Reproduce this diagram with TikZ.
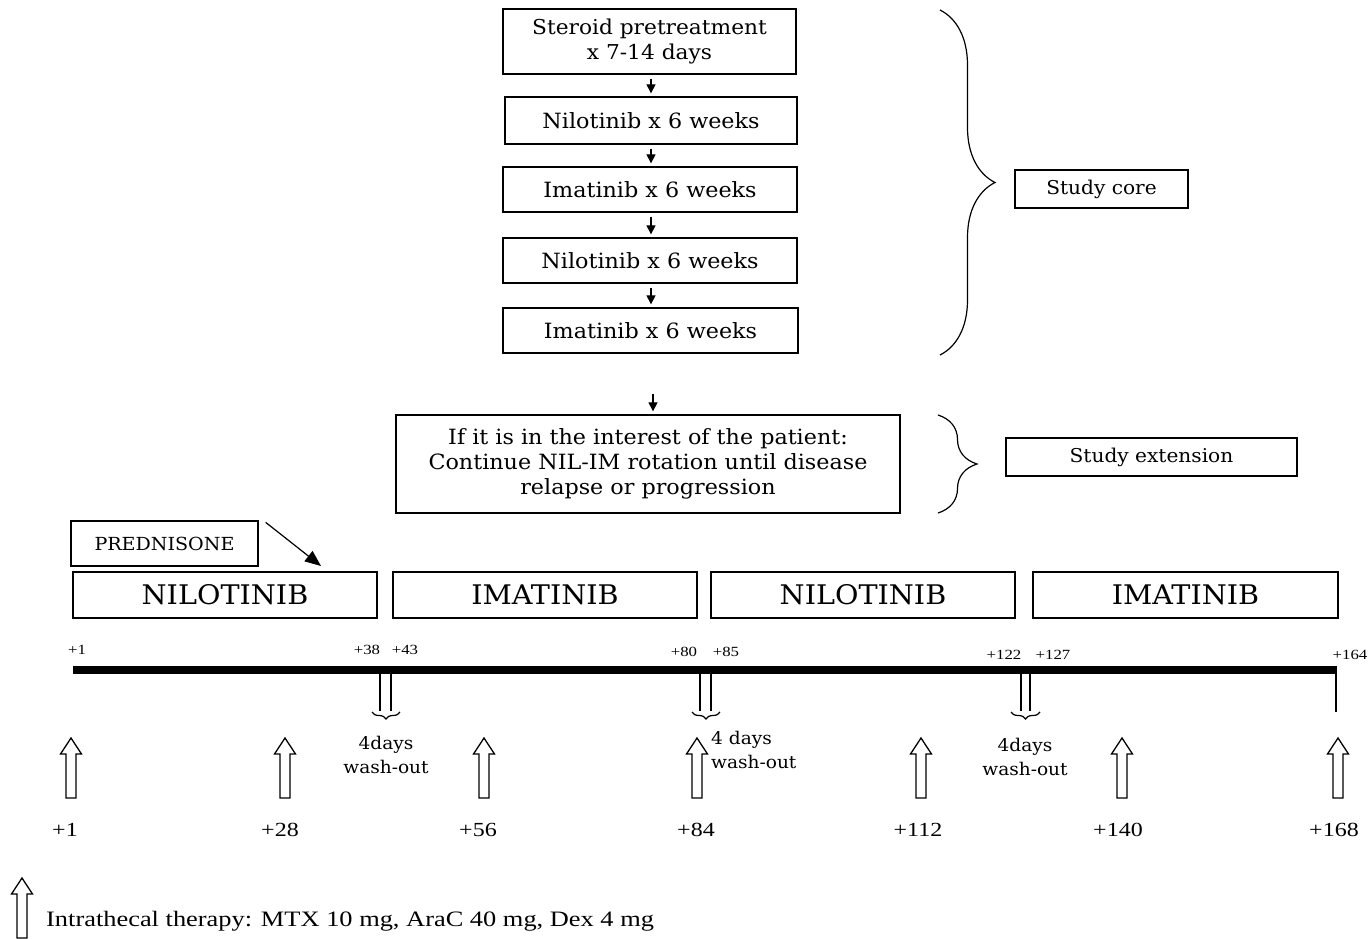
\documentclass[tikz,border=0pt]{standalone}
\usepackage{fontspec}
\setmainfont{DejaVu Serif}[FakeStretch=1.06]
\newfontfamily\legfont{Liberation Serif}[FakeStretch=1.2]
\usetikzlibrary{arrows.meta,decorations.pathreplacing}
\begin{document}
\begin{tikzpicture}[x=1pt,y=-1pt,
  flowbox/.style={draw, line width=1.3pt, inner sep=0pt, align=center, font=\fontsize{21}{24.5}\selectfont},
  sidebox/.style={draw, line width=1.3pt, inner sep=0pt, align=center, font=\fontsize{19}{22}\selectfont},
  drugbox/.style={draw, line width=1.3pt, inner sep=0pt, minimum height=46pt, minimum width=304pt, font=\fontsize{27}{30}\selectfont},
  flowarrow/.style={-{Triangle[length=9pt,width=9pt]}, line width=1.2pt, shorten <=4pt, shorten >=3pt},
  daylabel/.style={font=\legfont\fontsize{14}{16}\selectfont, inner sep=0pt},
  ticklabel/.style={font=\legfont\fontsize{20}{23}\selectfont, inner sep=0pt},
  washtext/.style={font=\fontsize{17.5}{24}\selectfont, inner sep=0pt, align=center},
  bigbrace/.style={decorate, decoration={brace, amplitude=#1}, line width=1.2pt},
  washbrace/.style={decorate, decoration={brace, amplitude=7pt}, line width=1.2pt},
  hollow/.pic={\draw[line width=1.3pt, fill=white] (-5,0) -- (-5,-44) -- (-10.5,-44) -- (0,-60) -- (10.5,-44) -- (5,-44) -- (5,0) -- cycle;}
]
\useasboundingbox (0,0) rectangle (1368,939);
% flow chart
\node[flowbox, minimum width=293pt, minimum height=65pt, font=\fontsize{20.5}{24.5}\selectfont] (b1) at (649.5,41.5) {Steroid pretreatment\\x 7-14 days};
\node[flowbox, minimum width=292pt, minimum height=47pt] (b2) at (651,120.5) {Nilotinib x 6 weeks};
\node[flowbox, minimum width=294pt, minimum height=45pt] (b3) at (650,189.5) {Imatinib x 6 weeks};
\node[flowbox, minimum width=294pt, minimum height=45pt] (b4) at (650,260.5) {Nilotinib x 6 weeks};
\node[flowbox, minimum width=295pt, minimum height=45pt] (b5) at (650.5,330.5) {Imatinib x 6 weeks};
\node[flowbox, minimum width=504pt, minimum height=98pt, font=\fontsize{21}{25}\selectfont] (b6) at (648,464) {If it is in the interest of the patient:\\Continue NIL-IM rotation until disease\\relapse or progression};
\draw[flowarrow] (b1.south -| 651,0) -- (b2.north -| 651,0);
\draw[flowarrow] (b2.south -| 651,0) -- (b3.north -| 651,0);
\draw[flowarrow] (b3.south -| 651,0) -- (b4.north -| 651,0);
\draw[flowarrow] (b4.south -| 651,0) -- (b5.north -| 651,0);
\coordinate (freestart) at (653,390);
\draw[flowarrow] (freestart) -- (b6.north -| 653,0);
% braces
\draw[bigbrace=55pt] (940,10) -- (940,355);
\draw[bigbrace=39pt] (938,415) -- (938,513);
\node[sidebox, minimum width=173pt, minimum height=38pt] (core) at (1101.5,189) {Study core};
\node[sidebox, minimum width=291pt, minimum height=38pt] (ext) at (1151.5,457) {Study extension};
% prednisone
\node[draw, line width=1.3pt, inner sep=0pt, minimum width=187pt, minimum height=45pt, font=\fontsize{18}{20}\selectfont] (pred) at (164.5,543.5) {PREDNISONE};
\coordinate (predtip) at (321,566);
\draw[line width=1.2pt, -{Triangle[length=16pt,width=13pt]}] ([shift={(7,2)}]pred.north east) -- (predtip);
% drug boxes
\node[drugbox] (nil1) at (225,595) {NILOTINIB};
\node[drugbox] (ima1) at (545,595) {IMATINIB};
\node[drugbox] (nil2) at (863,595) {NILOTINIB};
\node[drugbox, minimum width=305pt] (ima2) at (1185.5,595) {IMATINIB};
% timeline
\coordinate (tl0) at (73,670);
\coordinate (tl1) at (1337,670);
\coordinate (tlend) at (1336,712);
\draw[line width=8pt] (tl0) -- (tl1);
\draw[line width=1.8pt] (1336,666) -- (tlend);
\node[daylabel] (d1) at (77,650) {+1};
\node[daylabel] (d38) at (367,650) {+38};
\node[daylabel] (d43) at (405,650) {+43};
\node[daylabel] (d80) at (684,652) {+80};
\node[daylabel] (d85) at (726,652) {+85};
\node[daylabel] (d122) at (1004,655) {+122};
\node[daylabel] (d127) at (1053,655) {+127};
\node[daylabel] (d164) at (1350,655) {+164};
% wash-outs
\foreach \xa/\xb/\bl/\br in {380/391/372/400, 700/711/692/720, 1021/1030/1011/1040}{
  \draw[line width=1.5pt] (\xa,673) -- (\xa,711);
  \draw[line width=1.5pt] (\xb,673) -- (\xb,711);
  \draw[washbrace] (\br,712) -- (\bl,712);
}
\node[washtext] (wa) at (386,755) {4days\\wash-out};
\node[washtext, align=left, anchor=north west] (wb) at (711,731) {4 days\\wash-out};
\node[washtext] (wc) at (1025,757) {4days\\wash-out};
% intrathecal arrows
\foreach \x in {71, 285, 484, 697, 921, 1122, 1338}{
  \pic at (\x,798) {hollow};
}
\node[ticklabel] (t1) at (65,830) {+1};
\node[ticklabel] (t28) at (280,830) {+28};
\node[ticklabel] (t56) at (478,830) {+56};
\node[ticklabel] (t84) at (696,830) {+84};
\node[ticklabel] (t112) at (918,830) {+112};
\node[ticklabel] (t140) at (1118,830) {+140};
\node[ticklabel] (t168) at (1334,830) {+168};
% legend
\pic at (22,938) {hollow};
\node[anchor=west, inner sep=0pt, font=\legfont\fontsize{22}{25}\selectfont] (leg) at (46,921) {Intrathecal therapy: MTX 10 mg, AraC 40 mg, Dex 4 mg};
\end{tikzpicture}
\end{document}
